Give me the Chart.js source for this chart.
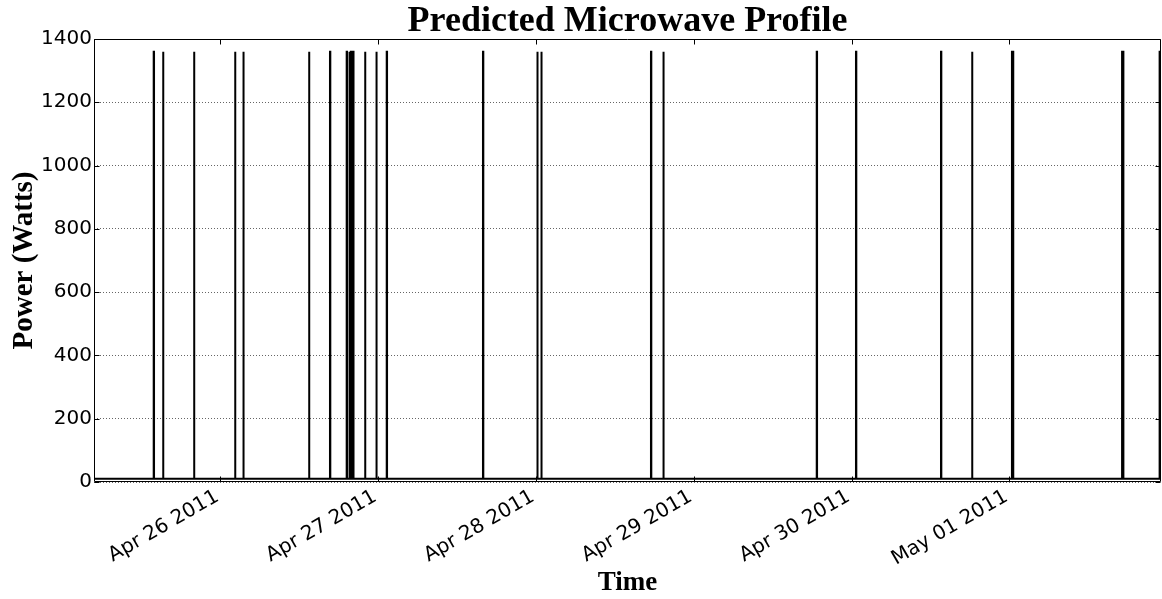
<!DOCTYPE html>
<html>
<head>
<meta charset="utf-8">
<title>Predicted Microwave Profile</title>
<script src="https://cdn.jsdelivr.net/npm/chart.js@4/dist/chart.umd.min.js"></script>
<style>
  html, body { margin: 0; padding: 0; background: #fff; }
  #wrap { width: 1162px; height: 599px; }
</style>
</head>
<body>
<div id="wrap"><canvas id="profile" width="1162" height="599"></canvas></div>
<script>
// time is in hours counted from Apr 26 2011 00:00
const spikeStart = [-10.13, -8.71, -4.00, 2.24, 3.50, 13.49, 16.68, 19.22, 19.60, 19.85, 20.11,
  22.01, 23.73, 25.31, 39.95, 48.21, 48.82, 65.50, 67.38, 90.71, 96.68, 109.61, 114.33,
  120.40, 137.15, 142.86];
const spikeLength = [0.05, 0.05, 0.05, 0.05, 0.05, 0.05, 0.05, 0.05, 0.08, 0.1, 0.15,
  0.05, 0.05, 0.05, 0.05, 0.05, 0.05, 0.05, 0.05, 0.05, 0.05, 0.05, 0.05,
  0.2, 0.2, 0.1];
const spikePower = [1360, 1360, 1360, 1360, 1360, 1360, 1360, 1360, 1360, 1360, 1360,
  1360, 1360, 1360, 1360, 1360, 1360, 1360, 1360, 1360, 1360, 1360, 1360,
  1360, 1360, 1360];
const basePower = 10;
const timeRange = [-19.21, 143.07];
const tickHours = [0, 24, 48, 72, 96, 120];
const tickLabels = ['Apr 26 2011', 'Apr 27 2011', 'Apr 28 2011', 'Apr 29 2011', 'Apr 30 2011', 'May 01 2011'];
const powerTicks = [0, 200, 400, 600, 800, 1000, 1200, 1400];

// square pulses on a flat standby line
const points = [{ x: timeRange[0], y: basePower }];
spikeStart.forEach((t, i) => {
  const end = t + spikeLength[i];
  points.push({ x: t, y: basePower }, { x: t, y: spikePower[i] },
    { x: end, y: spikePower[i] }, { x: end, y: basePower });
});
points.push({ x: timeRange[1], y: basePower });

// matplotlib style box with ticks pointing inwards
const frame = {
  id: 'frame',
  afterDatasetsDraw(chart) {
    const { ctx, chartArea: a, scales } = chart;
    const l = Math.round(a.left) + 0.5, r = Math.round(a.right) - 0.5;
    const t = Math.round(a.top) + 0.5, b = Math.round(a.bottom) - 0.5;
    const len = 5;
    ctx.save();
    ctx.strokeStyle = '#000';
    ctx.lineWidth = 1;
    ctx.beginPath();
    ctx.rect(l, t, r - l, b - t);
    scales.y.ticks.forEach(tk => {
      const py = Math.round(scales.y.getPixelForValue(tk.value)) + 0.5;
      ctx.moveTo(l, py); ctx.lineTo(l + len, py);
      ctx.moveTo(r, py); ctx.lineTo(r - len, py);
    });
    scales.x.ticks.forEach(tk => {
      const px = Math.round(scales.x.getPixelForValue(tk.value)) + 0.5;
      ctx.moveTo(px, b); ctx.lineTo(px, b - len);
      ctx.moveTo(px, t); ctx.lineTo(px, t + len);
    });
    ctx.stroke();
    ctx.restore();
  }
};

new Chart(document.getElementById('profile'), {
  type: 'line',
  data: {
    datasets: [{
      label: 'Microwave',
      data: points,
      borderColor: '#000',
      borderWidth: 2,
      pointRadius: 0,
      tension: 0,
      fill: false,
    }],
  },
  options: {
    responsive: false,
    animation: false,
    devicePixelRatio: 1,
    layout: { padding: { left: 0, right: 1, top: 0, bottom: 0 } },
    plugins: {
      legend: { display: false },
      tooltip: { enabled: false },
      title: {
        display: true,
        fullSize: false,
        text: 'Predicted Microwave Profile',
        color: '#000',
        font: { family: 'Liberation Serif', size: 36, weight: 'bold', lineHeight: '34px' },
        padding: { top: 5, bottom: 0 },
      },
    },
    scales: {
      x: {
        type: 'linear',
        min: timeRange[0],
        max: timeRange[1],
        afterBuildTicks: s => { s.ticks = tickHours.map(v => ({ value: v })); },
        afterFit: s => { s.height = 117; },
        grid: { display: false, drawTicks: false },
        border: { display: false },
        ticks: {
          autoSkip: false,
          minRotation: 30,
          maxRotation: 30,
          padding: 3,
          labelOffset: -3,
          color: '#000',
          font: { family: 'DejaVu Sans', size: 20 },
          callback: v => tickLabels[tickHours.indexOf(v)],
        },
        title: {
          display: true,
          text: 'Time',
          color: '#000',
          font: { family: 'Liberation Serif', size: 27, weight: 'bold' },
          padding: { top: 0, bottom: 0 },
        },
      },
      y: {
        min: 0,
        max: 1400,
        afterBuildTicks: s => { s.ticks = powerTicks.map(v => ({ value: v })); },
        afterFit: s => { s.width = 94; },
        grid: { color: '#666', lineWidth: 1, drawTicks: false },
        border: { display: false, dash: [1, 2] },
        ticks: {
          padding: 2,
          color: '#000',
          font: { family: 'DejaVu Sans', size: 20 },
          callback: v => String(v),
        },
        title: {
          display: true,
          text: 'Power (Watts)',
          color: '#000',
          font: { family: 'Liberation Serif', size: 29, weight: 'bold' },
          padding: { top: 7, bottom: 0 },
        },
      },
    },
  },
  plugins: [frame],
});
</script>
</body>
</html>
